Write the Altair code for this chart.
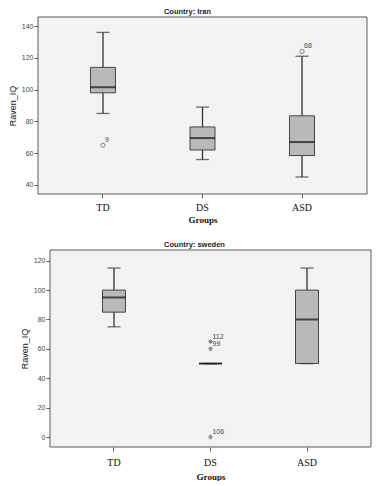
import altair as alt
import pandas as pd

groups = ["TD", "DS", "ASD"]

# Iran summary
iran_lower = [85, 56, 45]
iran_q1 = [98, 62, 58.5]
iran_median = [101.5, 69.5, 67]
iran_q3 = [114, 76.5, 83.5]
iran_upper = [136, 89, 121]
iran_out_group = ["TD", "ASD"]
iran_out_value = [65, 124]
iran_out_label = ["9", "68"]

# Sweden summary
swe_lower = [75, 50, 50]
swe_q1 = [85, 50, 50]
swe_median = [95, 50, 80]
swe_q3 = [100, 50, 100]
swe_upper = [115, 50, 115]
swe_out_group = ["DS", "DS", "DS"]
swe_out_value = [65, 60, 0]
swe_out_label = ["112", "99", "106"]

iran_ticks = [40, 60, 80, 100, 120, 140]
swe_ticks = [0, 20, 40, 60, 80, 100, 120]

BG = "#f3f3f3"
FRAME = "#5a5a5a"
BOXFILL = "#b9b9b9"
LINE = "#333333"
ASTERISK = "M-1,0L1,0M0,-1L0,1M-0.7,-0.7L0.7,0.7M-0.7,0.7L0.7,-0.7"


def panel(title, lower, q1, med, q3, upper, og, ov, ol, ticks, domain,
          w, h, x0, box_w, pin, pout, outlier_shape, title_dx, lab_pad, ttl_pad):
    df = pd.DataFrame({"Groups": groups, "lower": lower, "q1": q1,
                       "median": med, "q3": q3, "upper": upper})
    od = pd.DataFrame({"Groups": og, "value": ov, "label": ol})
    xs = alt.Scale(domain=groups, type="band", paddingInner=pin,
                   paddingOuter=pout, range=[x0, x0 + w])
    ys = alt.Scale(domain=domain, nice=False, zero=False)
    xenc = alt.X("Groups:N", scale=xs, sort=groups,
                 axis=alt.Axis(title="Groups", labelAngle=0, domain=False,
                               ticks=True, tickSize=4, tickColor=FRAME,
                               labelFont="Liberation Serif", labelFontSize=10,
                               labelColor="#111", labelPadding=lab_pad,
                               titleFont="Liberation Serif", titleFontSize=9,
                               titleFontWeight="bold", titleColor="#111",
                               titlePadding=ttl_pad))
    yax = alt.Axis(title="Raven_IQ", values=ticks, domain=False, grid=False,
                   tickSize=4, tickColor=FRAME, labelFont="Liberation Sans",
                   labelFontSize=7, labelColor="#444", labelPadding=1,
                   labelOverlap=False, labelFlush=False,
                   titleFont="Liberation Sans", titleFontSize=9,
                   titleFontWeight="normal", titleColor="#111",
                   titlePadding=4, offset=-x0)

    def Y(field):
        return alt.Y(field, scale=ys, axis=yax, title="Raven_IQ")

    frame = alt.Chart(pd.DataFrame({"a": [0]})).mark_rect(
        fill=BG, stroke=FRAME, strokeWidth=1).encode(
        x=alt.value(x0), x2=alt.value(x0 + w), y=alt.value(0), y2=alt.value(h))
    base = alt.Chart(df)
    whisker = base.mark_rule(color=LINE, strokeWidth=1.3).encode(
        x=xenc, y=Y("lower:Q"), y2="upper:Q")
    box = base.mark_bar(fill=BOXFILL, stroke="#444", strokeWidth=1,
                        size=box_w).encode(x=xenc, y=Y("q1:Q"), y2="q3:Q")
    capl = base.mark_tick(color=LINE, thickness=1.3, size=13).encode(
        x=xenc, y=Y("lower:Q"))
    capu = base.mark_tick(color=LINE, thickness=1.3, size=13).encode(
        x=xenc, y=Y("upper:Q"))
    median = base.mark_tick(color="#111", thickness=2, size=box_w).encode(
        x=xenc, y=Y("median:Q"))
    if outlier_shape == "circle":
        pts = alt.Chart(od).mark_point(shape="circle", filled=False, size=18,
                                       stroke="#555", strokeWidth=1)
    else:
        pts = alt.Chart(od).mark_point(shape=ASTERISK, filled=False, size=22,
                                       stroke="#555", strokeWidth=1)
    pts = pts.encode(x=xenc, y=Y("value:Q"))
    labs = alt.Chart(od).mark_text(align="left", baseline="middle", dx=2, dy=-5,
                                   fontSize=7, font="Liberation Sans",
                                   fill="#444").encode(
        x=xenc, y=Y("value:Q"), text="label:N")
    return alt.layer(frame, whisker, box, capl, capu, median, pts, labs).properties(
        width=x0 + w, height=h,
        title=alt.TitleParams(title, fontSize=7.5, font="Liberation Sans",
                              fontWeight="bold", color="#222", offset=1,
                              dx=title_dx, anchor="middle"))


top = panel("Country: Iran", iran_lower, iran_q1, iran_median, iran_q3, iran_upper,
            iran_out_group, iran_out_value, iran_out_label, iran_ticks, [34.3, 145.7],
            329, 177, 0, 25, 0.75, 0.528, "circle", -15, 4, 3)
bottom = panel("Country: sweden", swe_lower, swe_q1, swe_median, swe_q3, swe_upper,
               swe_out_group, swe_out_value, swe_out_label, swe_ticks, [-6.8, 127.3],
               321, 197, 12, 23, 0.76, 0.543, "asterisk", -10, 6, 5)

chart = alt.vconcat(top, bottom, spacing=17).properties(padding=0, background="white")
chart = chart.configure_view(strokeWidth=0).configure_axis(labelFontWeight="normal")

chart.save("out.html", embed_options={"renderer": "svg", "actions": False})
